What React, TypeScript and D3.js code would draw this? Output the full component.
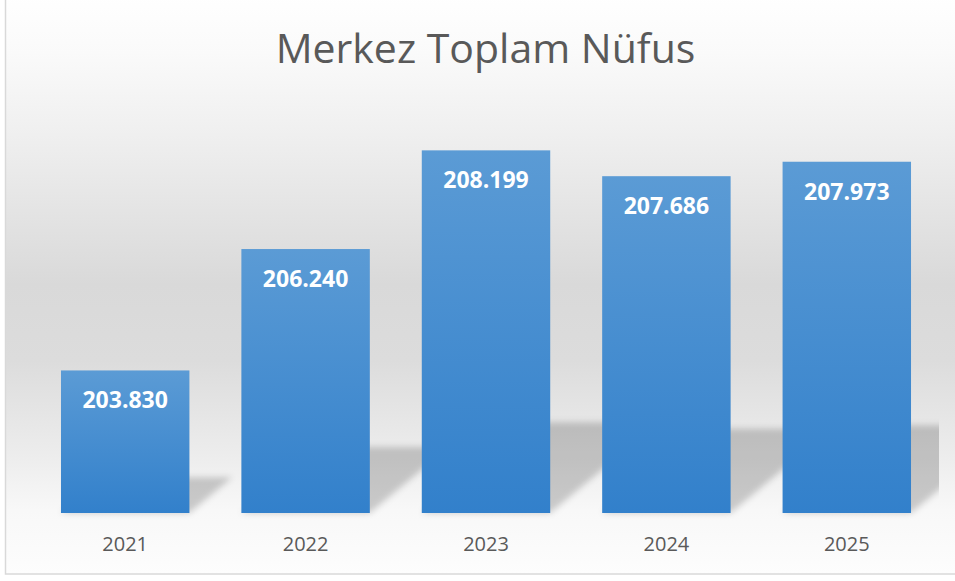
import React from "react";
import * as d3 from "d3";

const years = ["2021", "2022", "2023", "2024", "2025"];
const population = [203830, 206240, 208199, 207686, 207973];
const yDomain = [201000, 209000];
const titleText = "Merkez Toplam Nüfus";

const width = 955;
const height = 581;
const font = "'Open Sans', 'Noto Sans', sans-serif";

// turkish style thousands: 203.830
const fmt = (v: number) => d3.format(",")(v).replace(/,/g, ".");

export default function App() {
  const x = d3.scaleBand<string>()
    .domain(years)
    .range([35, 937])
    .paddingInner(0.288)
    .paddingOuter(0.144);
  const y = d3.scaleLinear().domain(yDomain).range([513, 110]);
  const base = y(yDomain[0]);

  const rows = years.map((yr, i) => ({ yr, v: population[i] }));

  // perspective shadow: flattened to a quarter of the bar, leaning right
  const shadow = (d: { yr: string; v: number }) => {
    const x0 = x(d.yr)!;
    const x1 = x0 + x.bandwidth();
    const h = (base - y(d.v)) * 0.25;
    const s = 1.2 * h;
    return `M${x0},${base}L${x1},${base}L${x1 + s},${base - h}L${x0 + s},${base - h}Z`;
  };

  return (
    <svg width={width} height={height}
      style={{ position: "absolute", left: 0, top: 0, background: "#fff" }}>
      <defs>
        <linearGradient id="bg" x1="0" y1="0" x2="0" y2="1">
          <stop offset="0" stopColor="#ffffff" />
          <stop offset="0.1" stopColor="#fafafa" />
          <stop offset="0.28" stopColor="#ececec" />
          <stop offset="0.5" stopColor="#d9d9d9" />
          <stop offset="0.63" stopColor="#dcdcdc" />
          <stop offset="0.8" stopColor="#ededed" />
          <stop offset="0.89" stopColor="#f8f8f8" />
          <stop offset="1" stopColor="#fdfdfd" />
        </linearGradient>
        <linearGradient id="bar" x1="0" y1="0" x2="0" y2="1">
          <stop offset="0" stopColor="#5b9bd5" />
          <stop offset="1" stopColor="#3280cb" />
        </linearGradient>
        <filter id="blur" x="-20%" y="-20%" width="140%" height="140%">
          <feGaussianBlur stdDeviation="3" />
        </filter>
        <clipPath id="plot">
          <rect x={0} y={100} width={939} height={420} />
        </clipPath>
      </defs>

      <rect x={5.5} y={-5} width={1000} height={579} fill="url(#bg)"
        stroke="#d9d9d9" strokeWidth={1.5} />

      <text x={485.5} y={63} textAnchor="middle" fontFamily={font}
        fontSize={41} fill="#595959">{titleText}</text>

      <g clipPath="url(#plot)">
        {rows.map(d => (
          <path key={"s" + d.yr} d={shadow(d)} fill="#000" fillOpacity={0.19}
            filter="url(#blur)" />
        ))}
      </g>

      {rows.map(d => (
        <rect key={d.yr} x={x(d.yr)} y={y(d.v)} width={x.bandwidth()}
          height={base - y(d.v)} fill="url(#bar)" />
      ))}

      {rows.map(d => (
        <text key={"l" + d.yr} x={x(d.yr)! + x.bandwidth() / 2} y={y(d.v) + 38}
          textAnchor="middle" fontFamily={font} fontWeight="bold" fontSize={23}
          fill="#fff">{fmt(d.v)}</text>
      ))}

      {years.map(yr => (
        <text key={"c" + yr} x={x(yr)! + x.bandwidth() / 2} y={551}
          textAnchor="middle" fontFamily={font} fontSize={20}
          fill="#595959">{yr}</text>
      ))}
    </svg>
  );
}
